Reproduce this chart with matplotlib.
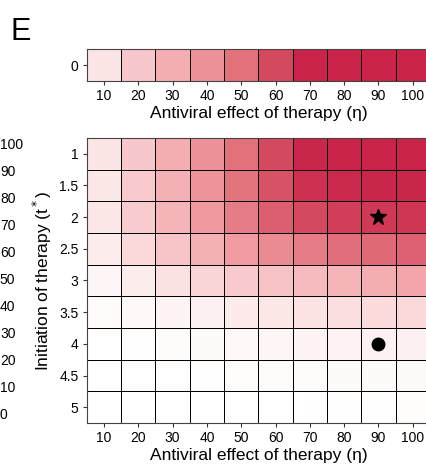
import numpy as np
import matplotlib.pyplot as plt
from matplotlib.colors import LinearSegmentedColormap

plt.rcParams['font.family'] = ['Liberation Sans', 'DejaVu Sans']

eta = [10, 20, 30, 40, 50, 60, 70, 80, 90, 100]
t_start = [1, 1.5, 2, 2.5, 3, 3.5, 4, 4.5, 5]

# top strip: t* = 0
strip = [14, 29, 43, 57, 71, 86, 100, 100, 100, 100]

# main grid, one row per t*
grid = [
    [14, 29, 43, 57, 71, 86, 99, 100, 100, 100],
    [13, 28, 42, 56, 70, 83, 95, 98, 99, 99],
    [13, 27, 40, 53, 66, 78, 86, 90, 92, 93],
    [10, 20, 31, 42, 52, 60, 66, 72, 74, 77],
    [5, 10, 16, 22, 28, 32, 36, 40, 43, 47],
    [2, 4, 6, 8, 11, 13, 15, 17, 19, 20],
    [1, 1.5, 2, 3, 4, 5, 6, 7, 7.5, 8],
    [0.3, 0.6, 1, 1.3, 1.6, 2, 2.4, 2.8, 3, 3.4],
    [0, 0.2, 0.4, 0.6, 0.8, 1, 1.2, 1.3, 1.5, 1.6],
]

star_pt = (90, 2)
dot_pt = (90, 4)
cbar_ticks = [0, 10, 20, 30, 40, 50, 60, 70, 80, 90, 100]

cmap = LinearSegmentedColormap.from_list(
    'reds', ['#FFFFFF', '#FCE4E4', '#F8C8CC', '#F4AFB3', '#EC9197',
             '#E2707B', '#D64B60', '#C9234A'])

fig = plt.figure(figsize=(4.26, 4.69), dpi=100)

x_edges = np.arange(5, 106, 10)
y_edges = np.arange(0.75, 5.26, 0.5)

# top strip
ax1 = fig.add_axes([0.204, 0.827, 0.805, 0.0685])
ax1.pcolormesh(x_edges, [-0.5, 0.5], np.array([strip]), cmap=cmap, vmin=0, vmax=100,
               edgecolors='black', linewidth=0.6)
ax1.set_xticks(eta)
ax1.set_yticks([0])
ax1.set_xlim(5, 105)
ax1.tick_params(labelsize=10, length=3, color='#333333', pad=3)
ax1.set_xlabel('Antiviral effect of therapy (η)', fontsize=12.5, labelpad=2)
for s in ax1.spines.values():
    s.set_color('#444444')
    s.set_linewidth(0.8)

# main heatmap
ax = fig.add_axes([0.204, 0.098, 0.805, 0.608])
mesh = ax.pcolormesh(x_edges, y_edges, np.array(grid), cmap=cmap, vmin=0, vmax=100,
                     edgecolors='black', linewidth=0.6)
ax.set_xlim(5, 105)
ax.set_ylim(5.25, 0.75)
ax.set_xticks(eta)
ax.set_yticks(t_start)
ax.set_yticklabels(['1', '1.5', '2', '2.5', '3', '3.5', '4', '4.5', '5'])
ax.tick_params(labelsize=10, length=3, color='#333333', pad=3)
ax.set_xlabel('Antiviral effect of therapy (η)', fontsize=12.5, labelpad=2)
ax.set_ylabel('Initiation of therapy (t$^*$)', fontsize=12.5, labelpad=4)
for s in ax.spines.values():
    s.set_color('#444444')
    s.set_linewidth(0.8)

ax.plot(*star_pt, marker='*', color='black', markersize=12, linestyle='none')
ax.plot(*dot_pt, marker='o', color='black', markersize=9, linestyle='none')

# colorbar sits off the left edge, only its labels show
cax = fig.add_axes([-0.06, 0.119, 0.05, 0.574])
cb = fig.colorbar(mesh, cax=cax, ticks=cbar_ticks)
cb.outline.set_visible(False)
cax.tick_params(length=0, labelsize=10, pad=3)

fig.text(0.025, 0.915, 'E', fontsize=22)

fig.savefig('out.png', dpi=100)
